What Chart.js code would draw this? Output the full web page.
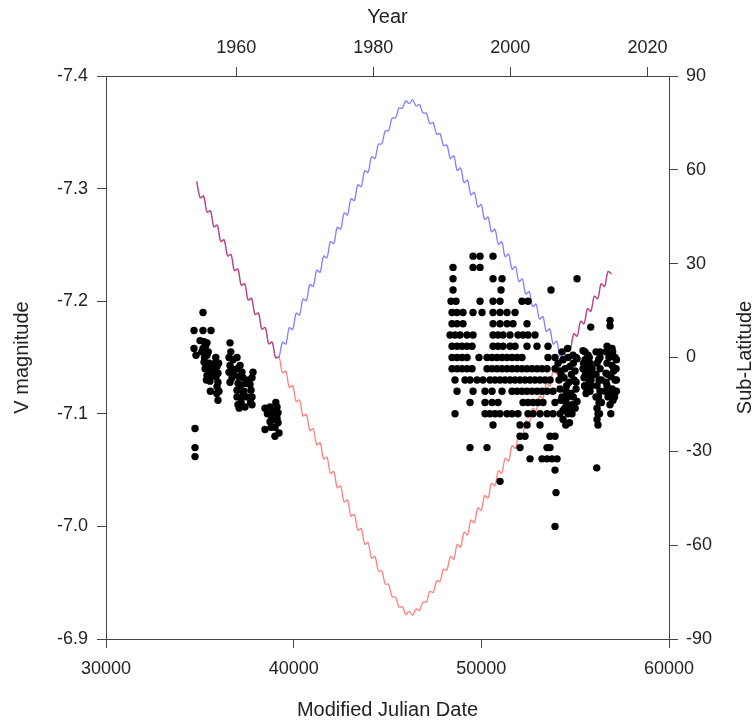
<!DOCTYPE html>
<html>
<head>
<meta charset="utf-8">
<script src="https://cdn.jsdelivr.net/npm/chart.js@4.4.1/dist/chart.umd.min.js"></script>
<style>
  html, body { margin: 0; padding: 0; background: #fff; }
</style>
</head>
<body>
<canvas id="chart" width="756" height="724"></canvas>
<script>
// axis ticks
const mjdTicks = [30000, 40000, 50000, 60000];
const yearTicks = [1960, 1980, 2000, 2020];
const magTicks = [-7.4, -7.3, -7.2, -7.1, -7.0, -6.9];
const latTicks = [-90, -60, -30, 0, 30, 60, 90];

// 1954-1966 magnitudes
const earlyMjd = [34690, 34690, 34796, 34743, 34743, 34743,
  35169, 35169, 35595, 35222, 35382, 35169, 35382, 35222, 35329, 35436, 35382, 35489, 35542,
  35010, 35100, 35250, 35300, 35450, 35500, 35280, 35350, 35600, 35650, 35560,
  35809, 35915, 35809, 35968, 35862, 35968, 35915, 35968, 35850, 36000, 35900, 36020,
  36608, 36555, 36768, 36608, 36555, 36715, 36608, 36650, 36700, 36800,
  36981, 37141, 37247, 37088, 37301, 37034, 37407, 36981, 37301, 37727, 36981, 37247, 37780,
  37034, 37407, 37780, 37834, 37674, 37780, 37000, 37150, 37200, 37350, 37500, 37600, 37700, 37100,
  38473, 38740, 39113, 38900, 39166, 38846, 39113, 38740, 39166, 39006, 38473, 39219,
  38600, 38950, 39050, 38800, 39000];
const earlyMag = [-7.174, -7.158, -7.152, -7.087, -7.070, -7.062,
  -7.190, -7.174, -7.174, -7.164, -7.163, -7.158, -7.152, -7.146, -7.143, -7.139, -7.134, -7.132, -7.129,
  -7.165, -7.155, -7.150, -7.160, -7.155, -7.145, -7.140, -7.130, -7.140, -7.135, -7.120,
  -7.145, -7.142, -7.139, -7.136, -7.133, -7.128, -7.124, -7.112, -7.150, -7.145, -7.118, -7.120,
  -7.163, -7.150, -7.148, -7.143, -7.137, -7.132, -7.128, -7.155, -7.140, -7.135,
  -7.150, -7.143, -7.137, -7.133, -7.132, -7.127, -7.127, -7.121, -7.119, -7.121, -7.115, -7.115, -7.115,
  -7.108, -7.106, -7.108, -7.137, -7.126, -7.132, -7.140, -7.125, -7.110, -7.120, -7.115, -7.130, -7.110, -7.105,
  -7.105, -7.106, -7.106, -7.102, -7.101, -7.097, -7.096, -7.093, -7.092, -7.088, -7.086, -7.083,
  -7.100, -7.095, -7.110, -7.088, -7.080];

// 1991-2007 magnitudes, reported to 0.01 mag
const gridMag = [-7.24, -7.23, -7.22, -7.21, -7.20, -7.19, -7.18, -7.17, -7.16, -7.15, -7.14,
  -7.13, -7.12, -7.11, -7.10, -7.09, -7.08, -7.07, -7.06, -7.05, -7.04, -7.03, -7.00];
const gridMjd = [
  [49557, 49930, 50623],
  [48492, 49557, 49930],
  [48492, 50623, 51103, 55100],
  [48492, 51050, 53714],
  [48385, 48652, 49930, 50623, 50996, 52168, 52488],
  [48438, 48705, 49025, 49557, 50037, 50623, 50996, 51369, 51796],
  [48438, 48705, 49025, 50623, 50996, 51369, 51689, 52435],
  [48332, 48598, 48865, 49238, 49557, 50623, 50890, 51156, 51529, 51955, 52222, 52488, 52861],
  [48438, 48705, 48971, 49238, 49504, 50623, 50890, 51156, 51529, 51796, 52435, 52968, 53553],
  [48438, 48705, 48971, 49238, 49877, 50303, 50570, 50836, 51103, 51369, 51636, 51902, 52168, 53553, 53927],
  [48438, 48705, 48971, 49238, 49504, 50303, 50570, 50836, 51103, 51369, 51636, 51902, 52168, 52435,
    52701, 52968, 53234, 53500, 53927],
  [48598, 49131, 49398, 49771, 50090, 50463, 50730, 50996, 51263, 51529, 51796, 52062, 52328, 52595,
    52861, 53127, 53394, 53661],
  [48705, 49557, 50197, 50570, 51103, 51636, 51902, 52168, 52435, 52701, 52968, 53234, 53500, 53820],
  [49398, 50197, 50570, 50890, 52222, 52488, 52754, 53021, 53287, 53927],
  [48598, 50197, 50463, 50730, 50996, 51369, 51636, 51955, 52488, 52754, 53127, 53500, 53820, 54194],
  [50623, 52062, 52435, 53127],
  [52062, 52328, 53661, 53927],
  [49398, 50303, 52062, 53500, 53661],
  [52595, 53234, 53500, 53767, 54034],
  [53927],
  [50996],
  [53980],
  [53927]
];

// 2007-2015 magnitudes
const lateMjd = [54087, 54354, 54620, 54886, 54194, 54460, 54726, 54993, 54140, 54407, 54673, 54940,
  54194, 54513, 54780, 55046, 54247, 54513, 54833, 55100, 54354, 54620, 54833, 54354,
  54300, 54600, 54900, 55050, 54250, 54550, 54800, 55050, 54300, 54600, 54900, 54450, 54750, 55000,
  54500, 54700,
  55419, 55686, 55526, 55792, 55419, 55686, 55899, 55473, 55739, 55526, 55792, 55579, 55846,
  55450, 55600, 55750, 55500, 55650, 55850, 55550, 55800,
  56112, 56325, 56165, 56325, 56112, 56272, 56165, 56325, 56112, 56272, 56165, 56218, 56165, 56218, 56149,
  56250, 56400, 56250, 56400, 56300,
  56858, 56858, 55830, 56965, 56645, 56911, 57124, 56698, 56965, 57124, 56645, 56911, 57124,
  56698, 56965, 57124, 56751, 57018, 56858, 56591, 55100, 55526, 56325,
  56700, 56800, 57000, 57200, 56750, 57050, 57200, 56800, 57100, 57200, 56650, 57180, 56900];
const lateMag = [-7.145, -7.148, -7.150, -7.152, -7.138, -7.140, -7.142, -7.138, -7.130, -7.132, -7.128, -7.130,
  -7.122, -7.120, -7.118, -7.122, -7.112, -7.110, -7.108, -7.111, -7.103, -7.100, -7.100, -7.095,
  -7.155, -7.158, -7.145, -7.150, -7.135, -7.125, -7.135, -7.128, -7.115, -7.115, -7.115, -7.105, -7.105, -7.105,
  -7.090, -7.092,
  -7.156, -7.152, -7.148, -7.145, -7.140, -7.137, -7.140, -7.132, -7.128, -7.124, -7.120, -7.118, -7.130,
  -7.145, -7.140, -7.150, -7.125, -7.120, -7.125, -7.135, -7.135,
  -7.155, -7.150, -7.145, -7.140, -7.135, -7.130, -7.125, -7.120, -7.115, -7.110, -7.105, -7.100, -7.095, -7.090, -7.052,
  -7.148, -7.130, -7.115, -7.110, -7.100,
  -7.183, -7.178, -7.177, -7.158, -7.155, -7.152, -7.150, -7.145, -7.143, -7.140, -7.136, -7.133, -7.130,
  -7.125, -7.122, -7.120, -7.115, -7.112, -7.108, -7.120, -7.149, -7.155, -7.155,
  -7.160, -7.150, -7.155, -7.148, -7.135, -7.138, -7.130, -7.118, -7.115, -7.120, -7.128, -7.140, -7.100];

// sub-Earth latitude (deg), half-year samples starting 1954.25
const latFirstYear = 1954.25;
const latStepYears = 0.5;
const latValues = [
  56.3, 51.1, 51.6, 46.5, 46.9, 41.8, 42.3, 37.1, 37.6, 32.5,
  32.9, 27.8, 28.3, 23.1, 23.6, 18.4, 18.9, 13.8, 14.2, 9.1,
  9.6, 4.4, 4.9, -0.2, 0.25, -4.85, -4.35, -9.5, -9.0, -14.1,
  -13.6, -18.7, -18.2, -23.3, -22.8, -27.9, -27.3, -32.4, -31.9, -37.0,
  -36.5, -41.6, -41.1, -46.2, -45.6, -50.7, -50.2, -55.2, -54.7, -59.7,
  -59.2, -64.2, -63.6, -68.2, -68.3, -72.4, -72.5, -76.5, -76.6, -79.7,
  -79.7, -82.1, -81.2, -82.4, -80.4, -80.9, -78.2, -78.1, -74.8, -75.1,
  -71.4, -71.6, -67.75, -67.9, -63.6, -64.5, -59.8, -60.6, -55.9, -56.7,
  -52.0, -52.8, -48.1, -48.9, -44.15, -44.9, -40.2, -41.0, -36.2, -37.0,
  -32.2, -33.05, -28.25, -29.1, -24.3, -25.1, -20.3, -21.1, -16.3, -17.1,
  -12.3, -13.1, -8.3, -9.15, -4.35, -5.2, -0.4, -1.2, 3.6, 2.8,
  7.6, 6.8, 11.6, 10.8, 15.6, 14.8, 19.6, 18.8, 23.6, 22.7,
  27.5, 26.7
];

const MJD_EPOCH_YEAR = 1858.877;
const mjdToYear = m => MJD_EPOCH_YEAR + m / 365.25;
const yearToMjd = y => (y - MJD_EPOCH_YEAR) * 365.25;

const magPoints = [];
earlyMjd.forEach((m, i) => magPoints.push({ x: m, y: earlyMag[i] }));
gridMag.forEach((v, r) => gridMjd[r].forEach(m => magPoints.push({ x: m, y: v })));
lateMjd.forEach((m, i) => magPoints.push({ x: m, y: lateMag[i] }));

const latPoints = latValues.map((v, i) => ({ x: yearToMjd(latFirstYear + i * latStepYears), y: v }));
const absLatPoints = latPoints.map(p => ({ x: p.x, y: Math.abs(p.y) }));

Chart.defaults.font.family = '"Liberation Sans", Arial, sans-serif';
Chart.defaults.color = '#222';

const axisLine = '#444';
const tickFont = { size: 18 };
const titleFont = { size: 20 };
const setTicks = list => scale => { scale.ticks = list.map(v => ({ value: v })); };

// right-hand title reads bottom to top, like the left one
const rightTitle = {
  id: 'rightTitle',
  afterDraw(chart) {
    const ctx = chart.ctx;
    const area = chart.chartArea;
    ctx.save();
    ctx.translate(chart.width - 11, (area.top + area.bottom) / 2);
    ctx.rotate(-Math.PI / 2);
    ctx.font = '20px "Liberation Sans", Arial, sans-serif';
    ctx.fillStyle = '#222';
    ctx.textAlign = 'center';
    ctx.textBaseline = 'middle';
    ctx.fillText('Sub-Latitude', 0, 0);
    ctx.restore();
  }
};

new Chart(document.getElementById('chart'), {
  type: 'scatter',
  data: {
    datasets: [
      {
        type: 'scatter',
        data: magPoints,
        xAxisID: 'x',
        yAxisID: 'y',
        pointRadius: 3.7,
        pointBackgroundColor: '#000',
        pointBorderWidth: 0,
        order: 0
      },
      {
        type: 'line',
        data: latPoints,
        xAxisID: 'x',
        yAxisID: 'y2',
        borderColor: 'rgba(255, 0, 0, 0.5)',
        borderWidth: 1.3,
        pointRadius: 0,
        tension: 0.35,
        fill: false,
        order: 1
      },
      {
        type: 'line',
        data: absLatPoints,
        xAxisID: 'x',
        yAxisID: 'y2',
        borderColor: 'rgba(0, 0, 255, 0.5)',
        borderWidth: 1.3,
        pointRadius: 0,
        tension: 0.35,
        fill: false,
        order: 2
      }
    ]
  },
  options: {
    responsive: false,
    animation: false,
    layout: { padding: 0 },
    plugins: { legend: { display: false }, tooltip: { enabled: false } },
    scales: {
      x: {
        type: 'linear',
        position: 'bottom',
        min: 30000,
        max: 60000,
        afterBuildTicks: setTicks(mjdTicks),
        afterFit: s => { s.height = 85; },
        grid: { drawOnChartArea: false, tickLength: 9, color: axisLine },
        border: { color: axisLine, width: 1 },
        ticks: { font: tickFont, padding: 10, maxRotation: 0, callback: v => String(v) },
        title: { display: true, text: 'Modified Julian Date', font: titleFont, padding: { top: 0, bottom: 2 } }
      },
      xYear: {
        type: 'linear',
        position: 'top',
        min: mjdToYear(30000),
        max: mjdToYear(60000),
        afterBuildTicks: setTicks(yearTicks),
        afterFit: s => { s.height = 76; },
        grid: { drawOnChartArea: false, tickLength: 9, color: axisLine },
        border: { color: axisLine, width: 1 },
        ticks: { font: tickFont, padding: 8, maxRotation: 0, callback: v => String(v) },
        title: { display: true, text: 'Year', font: titleFont, padding: { top: 5, bottom: 0 } }
      },
      y: {
        type: 'linear',
        position: 'left',
        reverse: true,
        min: -7.4,
        max: -6.9,
        afterBuildTicks: setTicks(magTicks),
        afterFit: s => { s.width = 106; },
        grid: { drawOnChartArea: false, tickLength: 9, color: axisLine },
        border: { color: axisLine, width: 1 },
        ticks: { font: tickFont, padding: 9, callback: v => v.toFixed(1) },
        title: { display: true, text: 'V magnitude', font: titleFont, padding: { top: 10, bottom: 0 } }
      },
      y2: {
        type: 'linear',
        position: 'right',
        min: -90,
        max: 90,
        afterBuildTicks: setTicks(latTicks),
        afterFit: s => { s.width = 87; },
        grid: { drawOnChartArea: false, tickLength: 9, color: axisLine },
        border: { color: axisLine, width: 1 },
        ticks: { font: tickFont, padding: 8, callback: v => String(v) }
      }
    }
  },
  plugins: [rightTitle]
});
</script>
</body>
</html>
